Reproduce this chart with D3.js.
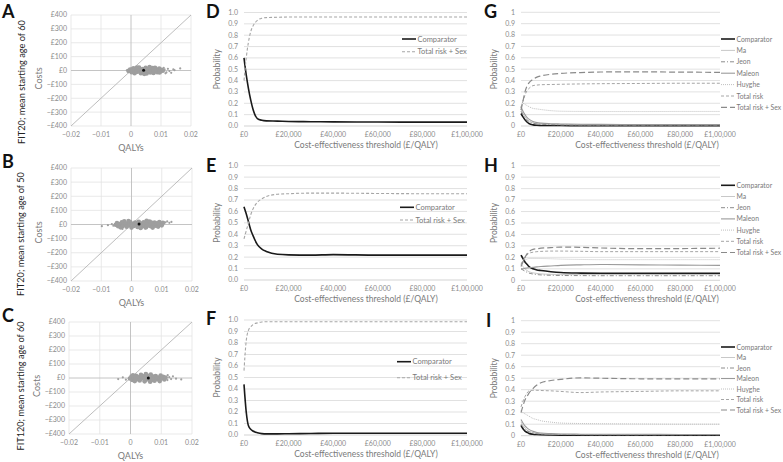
<!DOCTYPE html>
<html><head><meta charset="utf-8">
<script src="https://cdn.jsdelivr.net/npm/d3@7"></script>
<style>
body{margin:0;background:#fff}
text{font-family:Lato,"Open Sans",sans-serif}
</style>
</head><body>
<svg id="c" width="783" height="462"></svg>
<script>
// ---------- DATA ----------
const qalyTicks = [-0.02, -0.01, 0, 0.01, 0.02];
const costTicks = [-400, -300, -200, -100, 0, 100, 200, 300, 400];
const costTickLabels = ["−£400","−£300","−£200","−£100","£0","£100","£200","£300","£400"];
const qalyTickLabels = ["−0.02","−0.01","0","0.01","0.02"];

const scatterA = [[-0.0008,-3],[0.0002,-12],[0.0004,9],[0.0012,-20],[0.0011,1],[0.0018,14],[0.0021,-9],[0.0027,21],[0.003,-2],[0.0033,-19],[0.0038,11],[0.0041,-11],[0.0046,2],[0.0049,19],[0.0052,-22],[0.0057,-6],[0.006,12],[0.0064,-14],[0.0068,4],[0.0072,18],[0.0075,-18],[0.0079,-4],[0.0083,9],[0.0087,-12],[0.009,1],[0.0094,14],[0.0098,-7],[0.0102,5],[0.0106,-2],[0.0015,-5],[0.0025,6],[0.0035,-8],[0.0045,10],[0.0055,4],[0.0065,-9],[0.0075,7],[0.0085,-3],[0.0095,-14],[0.0008,16],[0.002,22],[0.0044,-24],[0.0062,24],[0.008,20],[-0.0003,6],[0.0005,-7]];
const outliersA = [[0.0112,8],[0.0118,-14],[0.0123,12],[0.0128,-4],[0.0134,-17],[0.0141,9],[0.0145,2],[0.0164,15],[-0.0014,1],[0.0109,19],[0.0115,-20]];
const meanA = [0.0042, 2];

const scatterB = [[-0.0052,-2],[-0.0048,10],[-0.0044,-12],[-0.004,4],[-0.0036,-20],[-0.0032,15],[-0.0028,-6],[-0.0024,22],[-0.002,2],[-0.0016,-16],[-0.0012,9],[-0.0008,-4],[-0.0004,18],[0,-22],[0.0004,5],[0.0008,-10],[0.0012,14],[0.0016,-2],[0.002,-18],[0.0024,20],[0.0028,-8],[0.0032,7],[0.0036,-14],[0.004,16],[0.0044,0],[0.0048,-20],[0.0052,10],[0.0056,-6],[0.006,21],[0.0064,-12],[0.0068,4],[0.0072,-3],[0.0076,14],[0.008,-9],[0.0084,8],[0.0088,-15],[0.0092,18],[0.0096,2],[0.01,-6],[0.0104,12],[-0.003,-14],[-0.001,24],[0.001,1],[0.003,-25],[0.005,26],[0.007,-22],[0.009,6],[-0.0045,-1],[0.0015,9],[0.0065,13]];
const outliersB = [[-0.0098,-12],[-0.0078,-5],[-0.0065,3],[-0.006,-8],[0.0112,15],[0.0118,22],[0.0125,12],[0.0132,18],[-0.003,-32],[0.0045,-30]];
const meanB = [0.0025, 3];

const scatterC = [[-0.0002,-4],[0.0003,10],[0.0006,-14],[0.001,3],[0.0014,-22],[0.0018,16],[0.0022,-8],[0.0026,6],[0.003,-18],[0.0034,22],[0.0038,-2],[0.0042,12],[0.0046,-24],[0.005,-10],[0.0054,18],[0.0058,2],[0.0062,-16],[0.0066,24],[0.007,-4],[0.0074,10],[0.0078,-20],[0.0082,14],[0.0086,-8],[0.009,4],[0.0094,-14],[0.0098,18],[0.0102,-2],[0.0106,8],[0.011,-10],[0.0114,3],[0.0008,20],[0.002,-2],[0.0035,8],[0.005,28],[0.0064,-26],[0.008,2],[0.0095,-22],[0.0045,-5],[0.0072,-12],[0.0016,6]];
const outliersC = [[-0.004,-8],[-0.0025,5],[-0.0015,-12],[0.012,-15],[0.0126,6],[0.0132,-8],[0.0138,12],[0.0148,-5],[0.0165,-10],[0.0121,20]];
const meanC = [0.0058, 0];

const thresholds = [0,1000,2000,3000,4000,6000,8000,10000,15000,20000,30000,40000,60000,80000,100000];
const probTicks = [0,0.1,0.2,0.3,0.4,0.5,0.6,0.7,0.8,0.9,1];
const thresholdTicks = [0,20000,40000,60000,80000,100000];
const thresholdTickLabels = ["£0","£20,000","£40,000","£60,000","£80,000","£1,00,000"];

const twoSeriesNames = ["Comparator","Total risk + Sex"];
const dComparator = [0.60,0.45,0.33,0.23,0.15,0.065,0.05,0.045,0.043,0.040,0.038,0.036,0.035,0.034,0.034];
const dTotalSex   = [0.40,0.60,0.74,0.83,0.88,0.93,0.95,0.955,0.958,0.96,0.96,0.96,0.96,0.96,0.96];
const eComparator = [0.64,0.58,0.51,0.44,0.39,0.31,0.27,0.25,0.225,0.22,0.218,0.222,0.218,0.218,0.218];
const eTotalSex   = [0.36,0.43,0.50,0.57,0.62,0.68,0.71,0.73,0.75,0.755,0.76,0.76,0.757,0.755,0.755];
const fComparator = [0.44,0.20,0.08,0.05,0.035,0.02,0.012,0.01,0.01,0.011,0.013,0.015,0.015,0.015,0.015];
const fTotalSex   = [0.56,0.82,0.91,0.94,0.96,0.975,0.983,0.985,0.985,0.985,0.985,0.985,0.985,0.985,0.985];

const sevenSeriesNames = ["Comparator","Ma","Jeon","Maleon","Huyghe","Total risk","Total risk + Sex"];
const gComparator = [0.11,0.08,0.055,0.035,0.022,0.01,0.006,0.005,0.004,0.004,0.003,0.003,0.003,0.003,0.003];
const gMa         = [0.15,0.11,0.08,0.06,0.045,0.03,0.022,0.018,0.014,0.012,0.01,0.01,0.01,0.01,0.01];
const gJeon       = [0.13,0.10,0.07,0.05,0.04,0.025,0.018,0.015,0.012,0.01,0.009,0.008,0.008,0.008,0.008];
const gMaleon     = [0.17,0.13,0.10,0.075,0.06,0.04,0.03,0.025,0.02,0.018,0.015,0.014,0.013,0.013,0.013];
const gHuyghe     = [0.17,0.20,0.19,0.18,0.17,0.155,0.15,0.145,0.135,0.13,0.128,0.127,0.127,0.128,0.128];
const gTotalRisk  = [0.16,0.22,0.27,0.31,0.33,0.355,0.36,0.363,0.365,0.367,0.37,0.372,0.374,0.376,0.376];
const gTotalSex   = [0.14,0.22,0.30,0.35,0.38,0.41,0.43,0.44,0.455,0.463,0.47,0.475,0.476,0.474,0.472];

const hComparator = [0.22,0.19,0.16,0.14,0.12,0.10,0.09,0.085,0.075,0.068,0.063,0.061,0.06,0.06,0.06];
const hMa         = [0.14,0.12,0.10,0.085,0.075,0.065,0.06,0.056,0.052,0.05,0.05,0.05,0.05,0.05,0.05];
const hJeon       = [0.10,0.09,0.08,0.07,0.063,0.055,0.05,0.047,0.044,0.042,0.041,0.04,0.04,0.04,0.04];
const hMaleon     = [0.10,0.10,0.105,0.107,0.11,0.113,0.117,0.12,0.125,0.13,0.135,0.138,0.135,0.132,0.13];
const hHuyghe     = [0.15,0.17,0.18,0.185,0.19,0.19,0.19,0.19,0.188,0.185,0.182,0.18,0.18,0.18,0.18];
const hTotalRisk  = [0.14,0.17,0.20,0.22,0.235,0.245,0.25,0.252,0.255,0.255,0.253,0.25,0.25,0.25,0.25];
const hTotalSex   = [0.12,0.16,0.20,0.23,0.25,0.27,0.275,0.28,0.285,0.29,0.288,0.282,0.276,0.277,0.28];

const iComparator = [0.09,0.06,0.04,0.03,0.02,0.013,0.01,0.008,0.006,0.005,0.005,0.005,0.005,0.005,0.005];
const iMa         = [0.12,0.09,0.065,0.05,0.04,0.028,0.02,0.017,0.014,0.012,0.01,0.01,0.01,0.01,0.01];
const iJeon       = [0.10,0.075,0.055,0.042,0.034,0.024,0.017,0.014,0.011,0.01,0.009,0.008,0.008,0.008,0.008];
const iMaleon     = [0.14,0.11,0.085,0.068,0.055,0.038,0.028,0.023,0.018,0.015,0.013,0.012,0.012,0.011,0.011];
const iHuyghe     = [0.22,0.20,0.19,0.18,0.17,0.15,0.14,0.13,0.118,0.11,0.106,0.104,0.102,0.10,0.10];
const iTotalRisk  = [0.25,0.30,0.34,0.37,0.39,0.395,0.395,0.393,0.39,0.385,0.375,0.38,0.385,0.39,0.39];
const iTotalSex   = [0.20,0.26,0.31,0.34,0.37,0.41,0.44,0.46,0.48,0.49,0.503,0.50,0.495,0.495,0.495];

// ---------- STYLES ----------
const GRID = "#d9d9d9", TICK = "#8c8c8c", TITLE = "#7a7a7a";
const styleTwo = [
  {stroke:"#1a1a1a", width:1.6, dash:null},
  {stroke:"#a6a6a6", width:1.1, dash:"3,2"}
];
const styleSeven = [
  {stroke:"#1a1a1a", width:1.6, dash:null},
  {stroke:"#c8c8c8", width:1, dash:null},
  {stroke:"#8c8c8c", width:1, dash:"4,2,1,2"},
  {stroke:"#9a9a9a", width:1.1, dash:null},
  {stroke:"#c0c0c0", width:1, dash:"1,1"},
  {stroke:"#a6a6a6", width:1, dash:"3,2"},
  {stroke:"#8a8a8a", width:1.2, dash:"6,3"}
];

const svg = d3.select("#c");

function panelLetter(x, y, t){
  svg.append("text").attr("x",x).attr("y",y).text(t)
    .attr("font-family","Liberation Sans, Arial, sans-serif")
    .attr("font-weight","bold").attr("font-size",18).attr("fill","#111");
}

function scatterPanel(o){
  const g = svg.append("g");
  const x = d3.scaleLinear().domain([-0.02,0.02]).range([o.x0,o.x1]);
  const y = d3.scaleLinear().domain([-400,400]).range([o.y1,o.y0]);
  g.selectAll(".vg").data(qalyTicks.filter(d=>d!==0)).join("line")
    .attr("x1",d=>x(d)).attr("x2",d=>x(d)).attr("y1",o.y0).attr("y2",o.y1)
    .attr("stroke","#e3e3e3").attr("stroke-width",0.8);
  g.selectAll(".hg").data(costTicks.filter(d=>d!==0)).join("line")
    .attr("x1",o.x0).attr("x2",o.x1).attr("y1",d=>y(d)).attr("y2",d=>y(d))
    .attr("stroke","#e3e3e3").attr("stroke-width",0.8);
  g.append("line").attr("x1",x(0)).attr("x2",x(0)).attr("y1",o.y0).attr("y2",o.y1)
    .attr("stroke","#bdbdbd").attr("stroke-width",0.9);
  g.append("line").attr("x1",o.x0).attr("x2",o.x1).attr("y1",y(0)).attr("y2",y(0))
    .attr("stroke","#bdbdbd").attr("stroke-width",0.9);
  g.append("line").attr("x1",x(-0.02)).attr("y1",y(-400)).attr("x2",x(0.02)).attr("y2",y(400))
    .attr("stroke","#b5b5b5").attr("stroke-width",0.9);
  g.selectAll(".ol").data(o.outliers).join("circle")
    .attr("cx",d=>x(d[0])).attr("cy",d=>y(d[1])).attr("r",1.1).attr("fill","#a0a0a0");
  g.selectAll(".pt").data(o.data).join("circle")
    .attr("cx",d=>x(d[0])).attr("cy",d=>y(d[1])).attr("r",2.3).attr("fill","#9e9e9e");
  g.append("circle").attr("cx",x(o.mean[0])).attr("cy",y(o.mean[1])).attr("r",1.5).attr("fill","#111");
  g.selectAll(".yl").data(costTicks).join("text")
    .attr("x",o.x0-4).attr("y",d=>y(d)+2.4).attr("text-anchor","end")
    .attr("font-size",7).attr("fill",TICK).text((d,i)=>costTickLabels[i]);
  g.selectAll(".xl").data(qalyTicks).join("text")
    .attr("x",d=>x(d)).attr("y",o.y1+11).attr("text-anchor","middle")
    .attr("font-size",7).attr("fill",TICK).text((d,i)=>qalyTickLabels[i]);
  g.append("text").attr("x",x(0)).attr("y",o.y1+25).attr("text-anchor","middle")
    .attr("font-size",9).attr("fill",TITLE).text("QALYs");
  g.append("text").attr("transform",`translate(${o.x0-29},${(o.y0+o.y1)/2+8}) rotate(-90)`)
    .attr("text-anchor","middle").attr("font-size",9).attr("fill",TITLE).text("Costs");
  g.append("text").attr("transform",`translate(${o.lx},${o.ly}) rotate(-90)`)
    .attr("text-anchor","middle").attr("font-size",9.2).attr("fill","#222").text(o.label);
  panelLetter(o.letterX,o.letterY,o.letter);
}

function ceacPanel(o){
  const g = svg.append("g");
  const x = d3.scaleLinear().domain([0,100000]).range([o.x0,o.x1]);
  const y = d3.scaleLinear().domain([0,1]).range([o.y1,o.y0]);
  g.selectAll(".hg").data(probTicks).join("line")
    .attr("x1",o.x0).attr("x2",o.x1).attr("y1",d=>y(d)).attr("y2",d=>y(d))
    .attr("stroke",d=>d===0?"#c8c8c8":GRID).attr("stroke-width",0.8);
  g.selectAll(".yl").data(probTicks).join("text")
    .attr("x",o.x0-6).attr("y",d=>y(d)+2.4).attr("text-anchor","end")
    .attr("font-size",7).attr("fill",TICK).text(d=>o.oneDecimal?d3.format(".1f")(d):d3.format("")(d));
  g.selectAll(".xl").data(thresholdTicks).join("text")
    .attr("x",d=>x(d)).attr("y",o.y1+11).attr("text-anchor","middle")
    .attr("font-size",7).attr("fill",TICK).text((d,i)=>thresholdTickLabels[i]);
  g.append("text").attr("x",o.titleX).attr("y",o.y1+22).attr("text-anchor","middle")
    .attr("font-size",8.5).attr("fill",TITLE).text("Cost-effectiveness threshold (£/QALY)");
  g.append("text").attr("transform",`translate(${o.x0-24},${(o.y0+o.y1)/2}) rotate(-90)`)
    .attr("text-anchor","middle").attr("font-size",8.5).attr("fill",TITLE).text("Probability");
  const line = d3.line().x((d,i)=>x(thresholds[i])).y(d=>y(d)).curve(d3.curveMonotoneX);
  o.series.forEach((s,k)=>{
    const st = o.styles[k];
    g.append("path").attr("d",line(s)).attr("fill","none")
      .attr("stroke",st.stroke).attr("stroke-width",st.width)
      .attr("stroke-dasharray",st.dash);
  });
  o.names.forEach((n,k)=>{
    const st = o.styles[k];
    const ly = o.legY + k*o.legStep;
    g.append("line").attr("x1",o.legX).attr("x2",o.legX+o.legLen).attr("y1",ly).attr("y2",ly)
      .attr("stroke",st.stroke).attr("stroke-width",st.width).attr("stroke-dasharray",st.dash);
    g.append("text").attr("x",o.legX+o.legLen+1.5).attr("y",ly+2.5).attr("font-size",o.legFont)
      .attr("fill",TITLE).text(n);
  });
  panelLetter(o.letterX,o.letterY,o.letter);
}

// ---------- PANELS ----------
scatterPanel({x0:71,x1:191,y0:15,y1:126,data:scatterA,outliers:outliersA,mean:meanA,label:"FIT20; mean starting age of 60",lx:25,ly:82,letter:"A",letterX:2,letterY:17.5});
scatterPanel({x0:71,x1:192,y0:168,y1:281,data:scatterB,outliers:outliersB,mean:meanB,label:"FIT20; mean starting age of 50",lx:24,ly:234,letter:"B",letterX:2,letterY:168});
scatterPanel({x0:69,x1:192,y0:322,y1:434,data:scatterC,outliers:outliersC,mean:meanC,label:"FIT120; mean starting age of 60",lx:24,ly:386,letter:"C",letterX:2,letterY:322});

ceacPanel({x0:244,x1:467,y0:12.5,y1:126,oneDecimal:true,series:[dComparator,dTotalSex],styles:styleTwo,names:twoSeriesNames,
  legX:402,legY:39,legStep:12.7,legLen:14,legFont:7.5,titleX:366,letter:"D",letterX:206,letterY:18});
ceacPanel({x0:244,x1:467,y0:165.7,y1:280,oneDecimal:true,series:[eComparator,eTotalSex],styles:styleTwo,names:twoSeriesNames,
  legX:400,legY:207.3,legStep:12.7,legLen:14,legFont:7.5,titleX:366,letter:"E",letterX:206,letterY:172});
ceacPanel({x0:244,x1:467,y0:320,y1:435,oneDecimal:true,series:[fComparator,fTotalSex],styles:styleTwo,names:twoSeriesNames,
  legX:397,legY:361.7,legStep:16,legLen:14,legFont:7.5,titleX:366,letter:"F",letterX:206,letterY:325});

ceacPanel({x0:521,x1:720,y0:12.3,y1:126,oneDecimal:false,series:[gComparator,gMa,gJeon,gMaleon,gHuyghe,gTotalRisk,gTotalSex],styles:styleSeven,names:sevenSeriesNames,
  legX:721,legY:39,legStep:11.4,legLen:14,legFont:6.8,titleX:647,letter:"G",letterX:484,letterY:18});
ceacPanel({x0:521,x1:720,y0:165.7,y1:280.3,oneDecimal:false,series:[hComparator,hMa,hJeon,hMaleon,hHuyghe,hTotalRisk,hTotalSex],styles:styleSeven,names:sevenSeriesNames,
  legX:721,legY:185.3,legStep:11.2,legLen:14,legFont:6.8,titleX:647,letter:"H",letterX:484,letterY:172});
ceacPanel({x0:521,x1:720,y0:320.7,y1:435.7,oneDecimal:false,series:[iComparator,iMa,iJeon,iMaleon,iHuyghe,iTotalRisk,iTotalSex],styles:styleSeven,names:sevenSeriesNames,
  legX:721,legY:347,legStep:10.5,legLen:14,legFont:6.8,titleX:647,letter:"I",letterX:486,letterY:327});
</script>
</body></html>
